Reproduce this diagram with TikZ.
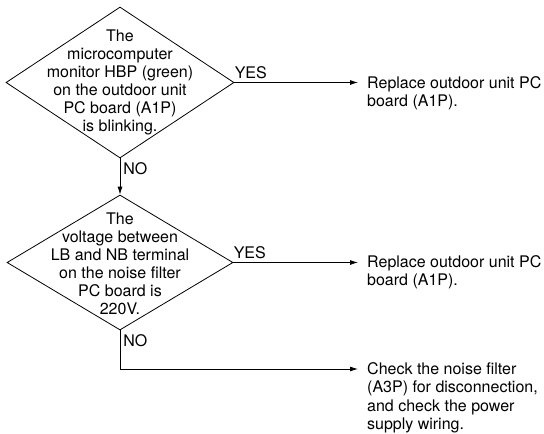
\documentclass[tikz,border=0pt]{standalone}
\usepackage{fontspec}
\setmainfont{TeX Gyre Heros}
\usetikzlibrary{shapes.geometric, arrows.meta, positioning, calc}

\begin{document}
\begin{tikzpicture}[x=1pt, y=-1pt,
  qbox/.style={draw, diamond, inner sep=0pt, line width=0.8pt},
  qtext/.style={align=center, font=\fontsize{16}{18}\selectfont, inner sep=0pt},
  abox/.style={anchor=north west, align=left, font=\fontsize{16}{18.5}\selectfont, inner xsep=9pt, inner ysep=0pt},
  yeslbl/.style={font=\fontsize{16}{18}\selectfont, anchor=south west, inner xsep=0pt, inner ysep=3pt},
  nolbl/.style={font=\fontsize{16}{18}\selectfont, anchor=north west, inner xsep=3pt, inner ysep=4pt},
  arr/.style={-{Latex[length=8pt, width=5pt]}, line width=0.8pt}
]
  \useasboundingbox (0,0) rectangle (544,434);

  % questions
  \node[qbox, minimum width=228pt, minimum height=151pt] (q1) at (120,82.5) {};
  \node[qtext] (q1t) at (q1) {The\\microcomputer\\monitor HBP (green)\\on the outdoor unit\\PC board (A1P)\\is blinking.};
  \node[qbox, minimum width=226pt, minimum height=135pt] (q2) at (120,262.5) {};
  \node[qtext] (q2t) at ([yshift=-1pt]q2) {The\\voltage between\\LB and NB terminal\\on the noise filter\\PC board is\\220V.};

  % actions
  \node[abox] (a1) at (358,76) {Replace outdoor unit PC\\board (A1P).};
  \node[abox] (a2) at (358,255) {Replace outdoor unit PC\\board (A1P).};
  \node[abox] (a3) at (358,362) {Check the noise filter\\(A3P) for disconnection,\\and check the power\\supply wiring.};

  % connectors
  \draw[arr] (q1.east) -- (q1.east -| a1.west) node[yeslbl, pos=0] {YES};
  \draw[arr] (q1.south) -- (q2.north) node[nolbl, pos=0] {NO};
  \draw[arr] (q2.east) -- (q2.east -| a2.west) node[yeslbl, pos=0] {YES};
  \draw[arr] (q2.south) |- ([yshift=-7pt]a3.north west) node[nolbl, pos=0] {NO};
\end{tikzpicture}
\end{document}
